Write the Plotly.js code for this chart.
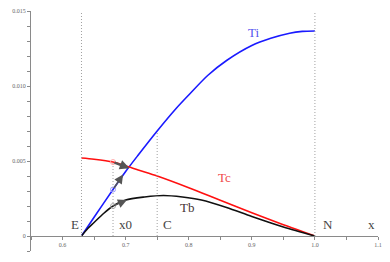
<!DOCTYPE html>
<html><head><meta charset="utf-8">
<script src="https://cdn.plot.ly/plotly-3.0.1.min.js"></script>
<style>html,body{margin:0;padding:0;background:#fff}#chart{width:390px;height:262px}</style>
</head><body><div id="chart"></div>
<script>
// Ti curve
const tiX = [0.63, 0.65, 0.68, 0.70, 0.72, 0.75, 0.78, 0.80, 0.83, 0.86, 0.90, 0.93, 0.96, 0.98, 1.00];
const tiY = [0, 0.00125, 0.0031, 0.0043, 0.0054, 0.0070, 0.0085, 0.0094, 0.0107, 0.0117, 0.0127, 0.01318, 0.01352, 0.01364, 0.01367];
// Tc curve
const tcX = [0.63, 0.65, 0.68, 0.70, 0.72, 0.75, 0.80, 0.85, 0.90, 0.95, 1.00];
const tcY = [0.0052, 0.00512, 0.00493, 0.00468, 0.0044, 0.00400, 0.00322, 0.00238, 0.00155, 0.00075, 0];
// Tb curve
const tbX = [0.63, 0.64, 0.65, 0.665, 0.68, 0.70, 0.73, 0.76, 0.79, 0.82, 0.86, 0.90, 0.95, 1.00];
const tbY = [0, 0.0005, 0.0009, 0.0015, 0.0020, 0.0024, 0.0026, 0.0027, 0.0026, 0.0024, 0.0019, 0.0013, 0.0006, 0];
// special abscissae
const pointNames = ["E", "x0", "C", "N"];
const pointX = [0.63, 0.68, 0.75, 1.0];
const pointTop = [0.015, 0.00493, 0.0070, 0.015];
// arrows: tail (x0) -> head
const arrowTailX = [0.68, 0.68, 0.68];
const arrowTailY = [0.0031, 0.00493, 0.0020];
const arrowHeadX = [0.696, 0.706, 0.702];
const arrowHeadY = [0.0041, 0.00452, 0.0024];
// axis ticks
const xTickVals = [0.6, 0.7, 0.8, 0.9, 1.0, 1.1];
const xTickText = ["0.6", "0.7", "0.8", "0.9", "1.0", "1.1"];
const yTickVals = [0, 0.005, 0.010, 0.015];
const yTickText = ["0", "0.005", "0.010", "0.015"];

const traces = [
  {x: tiX, y: tiY, mode: 'lines', line: {color: '#1a1aff', width: 1.6, shape: 'spline', smoothing: 0.8}, hoverinfo: 'skip'},
  {x: tcX, y: tcY, mode: 'lines', line: {color: '#ff1010', width: 1.6, shape: 'spline', smoothing: 0.8}, hoverinfo: 'skip'},
  {x: tbX, y: tbY, mode: 'lines', line: {color: '#111111', width: 1.6, shape: 'spline', smoothing: 0.8}, hoverinfo: 'skip'},
  {x: arrowTailX, y: arrowTailY, mode: 'markers',
   marker: {symbol: 'circle-open', size: 5, color: ['#9999ff', '#ffaaaa', '#aaaaaa'], line: {width: 1}}, hoverinfo: 'skip'}
];

const serif = 'Liberation Serif, DejaVu Serif, serif';
const shapes = pointX.map((px, i) => ({
  type: 'line', xref: 'x', yref: 'y', x0: px, x1: px, y0: 0, y1: pointTop[i],
  line: {color: '#a0a0a0', width: 1, dash: '1px,2px'}
}));

const annotations = [];
const arrowW = [1.5, 2.4, 1.5];
const arrowS = [1.2, 0.8, 1.2];
for (let i = 0; i < 3; i++) {
  annotations.push({x: arrowHeadX[i], y: arrowHeadY[i], ax: arrowTailX[i], ay: arrowTailY[i],
    xref: 'x', yref: 'y', axref: 'x', ayref: 'y', text: '', showarrow: true,
    arrowhead: 2, arrowsize: arrowS[i], arrowwidth: arrowW[i], arrowcolor: '#555555'});
}
const lbl = (t, x, y, c) => ({x: x, y: y, xref: 'x', yref: 'y', text: t, showarrow: false,
  font: {family: serif, size: 13, color: c}});
annotations.push(lbl('E', 0.6195, 0.0008, '#444444'));
annotations.push(lbl('x0', 0.7, 0.0008, '#444444'));
annotations.push(lbl('C', 0.767, 0.0008, '#444444'));
annotations.push(lbl('N', 1.021, 0.0008, '#444444'));
annotations.push(lbl('x', 1.09, 0.0008, '#444444'));
annotations.push(lbl('Ti', 0.902, 0.0136, '#5555f0'));
annotations.push(lbl('Tc', 0.856, 0.00393, '#f04848'));
annotations.push(lbl('Tb', 0.798, 0.00187, '#443333'));

const layout = {
  width: 390, height: 262,
  margin: {l: 31, r: 12, t: 11, b: 11, pad: 0},
  paper_bgcolor: '#ffffff', plot_bgcolor: '#ffffff',
  showlegend: false,
  xaxis: {range: [0.55, 1.1], anchor: 'free', position: 0.0625,
    showgrid: false, zeroline: false, showline: true, linecolor: '#8a8a8a', linewidth: 1,
    tickmode: 'array', tickvals: xTickVals, ticktext: xTickText,
    ticks: 'outside', ticklen: 3, tickcolor: '#8a8a8a', tickwidth: 1,
    minor: {dtick: 0.05, tick0: 0.55, ticks: 'outside', ticklen: 3, tickcolor: '#8a8a8a'},
    tickfont: {family: serif, size: 6, color: '#666666'}},
  yaxis: {range: [-0.001, 0.015],
    showgrid: false, zeroline: false, showline: true, linecolor: '#8a8a8a', linewidth: 1,
    tickmode: 'array', tickvals: yTickVals, ticktext: yTickText,
    ticks: 'outside', ticklen: 3, tickcolor: '#8a8a8a', tickwidth: 1,
    minor: {dtick: 0.001, tick0: 0, ticks: 'outside', ticklen: 3, tickcolor: '#8a8a8a'},
    tickfont: {family: serif, size: 6, color: '#666666'}},
  shapes: shapes,
  annotations: annotations
};
Plotly.newPlot('chart', traces, layout, {displayModeBar: false, staticPlot: true});
</script></body></html>
